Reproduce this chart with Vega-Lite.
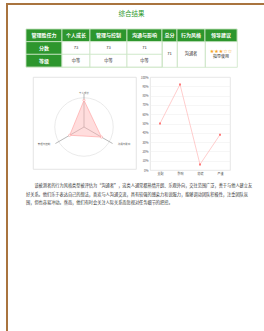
{
  "$schema": "https://vega.github.io/schema/vega-lite/v6.json",
  "background": "#ffffff",
  "padding": {"left": 6, "top": 3, "right": 0, "bottom": 0},
  "config": {"view": {"stroke": null}, "font": "Noto Sans CJK SC"},
  "datasets": {
    "table": [
      {"col": "管理胜任力", "row": "header", "kind": "head", "text": "管理胜任力"},
      {"col": "管理胜任力", "row": "分数", "kind": "head", "text": "分数"},
      {"col": "管理胜任力", "row": "等级", "kind": "head", "text": "等级"},
      {"col": "个人成长", "row": "header", "kind": "head", "text": "个人成长"},
      {"col": "个人成长", "row": "分数", "kind": "value", "text": "73"},
      {"col": "个人成长", "row": "等级", "kind": "value", "text": "中等"},
      {"col": "管理与控制", "row": "header", "kind": "head", "text": "管理与控制"},
      {"col": "管理与控制", "row": "分数", "kind": "value", "text": "73"},
      {"col": "管理与控制", "row": "等级", "kind": "value", "text": "中等"},
      {"col": "沟通与影响", "row": "header", "kind": "head", "text": "沟通与影响"},
      {"col": "沟通与影响", "row": "分数", "kind": "value", "text": "71"},
      {"col": "沟通与影响", "row": "等级", "kind": "value", "text": "中等"},
      {"col": "总分", "row": "header", "kind": "head", "text": "总分"},
      {"col": "总分", "row": "分数", "kind": "merged", "text": "71"},
      {"col": "行为风格", "row": "header", "kind": "head", "text": "行为风格"},
      {"col": "行为风格", "row": "分数", "kind": "merged", "text": "沟通者"},
      {"col": "领导建议", "row": "header", "kind": "head", "text": "领导建议"},
      {"col": "领导建议", "row": "分数", "kind": "merged", "text": "指导使用"},
      {"col": "领导建议", "row": "分数", "kind": "stars", "text": "★★★☆☆"}
    ],
    "radar": [
      {"axis": "个人成长", "value": 81},
      {"axis": "管理与控制", "value": 50},
      {"axis": "沟通与影响", "value": 61}
    ],
    "disc": [
      {"k": "支配", "v": 0.50},
      {"k": "影响", "v": 0.92},
      {"k": "稳健", "v": 0.06},
      {"k": "严谨", "v": 0.38}
    ],
    "para": [
      {"line": 1, "text": "该被测者的行为风格类型被评估为“沟通者”，这类人通常都热情开朗、乐观外向，交往范围广泛，善于与他人建立友"},
      {"line": 2, "text": "好关系。他们乐于表达自己的想法，喜欢与人沟通交流，具有较强的感染力和说服力，能够调动团队积极性，注重团队氛"},
      {"line": 3, "text": "围，但也容易冲动。然而，他们有时会关注人际关系而忽视对任务细节的把控。"}
    ]
  },
  "spacing": 0,
  "hconcat": [
    {
      "width": 2, "height": 328,
      "view": {"fill": "#a9743f", "stroke": null},
      "data": {"values": [{"edge": "left"}]},
      "mark": {"type": "rect", "color": "#a9743f"},
      "encoding": {}
    },
    {
      "spacing": 5,
      "vconcat": [
        {
          "width": 256, "height": 2,
          "view": {"fill": "#a9743f", "stroke": null},
          "data": {"values": [{"edge": "top"}]},
          "mark": {"type": "rect", "color": "#a9743f"},
          "encoding": {}
        },
        {
          "spacing": 16,
          "hconcat": [
            {"width": 1, "height": 1, "data": {"values": []}, "mark": "point", "encoding": {}},
            {
              "spacing": 7,
              "vconcat": [
                {
                  "title": {"text": "综合结果", "fontSize": 6.5, "color": "#2e9a2e", "fontWeight": "normal", "anchor": "middle", "offset": 11},
                  "data": {"name": "table"},
                  "spacing": 0,
                  "bounds": "flush",
                  "hconcat": [
                    {
                      "width": 36, "height": 38,
                      "view": {"stroke": "#cde6c6", "strokeWidth": 0.8},
                      "transform": [{"filter": {"field": "col", "equal": "管理胜任力"}}],
                      "encoding": {"y": {"field": "row", "type": "nominal", "scale": {"type": "band", "domain": ["header", "分数", "等级"], "paddingInner": 0, "paddingOuter": 0}, "axis": null}},
                      "layer": [
                        {"transform": [{"filter": "datum.kind == 'head' || datum.kind == 'value'"}], "mark": {"type": "rect", "stroke": "#cde6c6", "strokeWidth": 0.8}, "encoding": {"fill": {"field": "kind", "type": "nominal", "scale": {"domain": ["head", "value"], "range": ["#2d962d", "#ffffff"]}, "legend": null}}},
                        {"transform": [{"filter": "datum.kind == 'head'"}], "mark": {"type": "text", "fontSize": 5, "fontWeight": "bold", "fill": "#ffffff", "baseline": "middle"}, "encoding": {"text": {"field": "text"}}}
                      ]
                    },
                    {
                      "width": 28, "height": 38,
                      "view": {"stroke": "#cde6c6", "strokeWidth": 0.8},
                      "transform": [{"filter": {"field": "col", "equal": "个人成长"}}],
                      "encoding": {"y": {"field": "row", "type": "nominal", "scale": {"type": "band", "domain": ["header", "分数", "等级"], "paddingInner": 0, "paddingOuter": 0}, "axis": null}},
                      "layer": [
                        {"transform": [{"filter": "datum.kind == 'head' || datum.kind == 'value'"}], "mark": {"type": "rect", "stroke": "#cde6c6", "strokeWidth": 0.8}, "encoding": {"fill": {"field": "kind", "type": "nominal", "scale": {"domain": ["head", "value"], "range": ["#2d962d", "#ffffff"]}, "legend": null}}},
                        {"transform": [{"filter": "datum.kind == 'head'"}], "mark": {"type": "text", "fontSize": 5, "fontWeight": "bold", "fill": "#ffffff", "baseline": "middle"}, "encoding": {"text": {"field": "text"}}},
                        {"transform": [{"filter": "datum.kind == 'value'"}], "mark": {"type": "text", "fontSize": 4.2, "fill": "#333333", "baseline": "middle"}, "encoding": {"text": {"field": "text"}}}
                      ]
                    },
                    {
                      "width": 37, "height": 38,
                      "view": {"stroke": "#cde6c6", "strokeWidth": 0.8},
                      "transform": [{"filter": {"field": "col", "equal": "管理与控制"}}],
                      "encoding": {"y": {"field": "row", "type": "nominal", "scale": {"type": "band", "domain": ["header", "分数", "等级"], "paddingInner": 0, "paddingOuter": 0}, "axis": null}},
                      "layer": [
                        {"transform": [{"filter": "datum.kind == 'head' || datum.kind == 'value'"}], "mark": {"type": "rect", "stroke": "#cde6c6", "strokeWidth": 0.8}, "encoding": {"fill": {"field": "kind", "type": "nominal", "scale": {"domain": ["head", "value"], "range": ["#2d962d", "#ffffff"]}, "legend": null}}},
                        {"transform": [{"filter": "datum.kind == 'head'"}], "mark": {"type": "text", "fontSize": 5, "fontWeight": "bold", "fill": "#ffffff", "baseline": "middle"}, "encoding": {"text": {"field": "text"}}},
                        {"transform": [{"filter": "datum.kind == 'value'"}], "mark": {"type": "text", "fontSize": 4.2, "fill": "#333333", "baseline": "middle"}, "encoding": {"text": {"field": "text"}}}
                      ]
                    },
                    {
                      "width": 35, "height": 38,
                      "view": {"stroke": "#cde6c6", "strokeWidth": 0.8},
                      "transform": [{"filter": {"field": "col", "equal": "沟通与影响"}}],
                      "encoding": {"y": {"field": "row", "type": "nominal", "scale": {"type": "band", "domain": ["header", "分数", "等级"], "paddingInner": 0, "paddingOuter": 0}, "axis": null}},
                      "layer": [
                        {"transform": [{"filter": "datum.kind == 'head' || datum.kind == 'value'"}], "mark": {"type": "rect", "stroke": "#cde6c6", "strokeWidth": 0.8}, "encoding": {"fill": {"field": "kind", "type": "nominal", "scale": {"domain": ["head", "value"], "range": ["#2d962d", "#ffffff"]}, "legend": null}}},
                        {"transform": [{"filter": "datum.kind == 'head'"}], "mark": {"type": "text", "fontSize": 5, "fontWeight": "bold", "fill": "#ffffff", "baseline": "middle"}, "encoding": {"text": {"field": "text"}}},
                        {"transform": [{"filter": "datum.kind == 'value'"}], "mark": {"type": "text", "fontSize": 4.2, "fill": "#333333", "baseline": "middle"}, "encoding": {"text": {"field": "text"}}}
                      ]
                    },
                    {
                      "width": 15, "height": 38,
                      "view": {"stroke": "#cde6c6", "strokeWidth": 0.8},
                      "transform": [{"filter": {"field": "col", "equal": "总分"}}],
                      "encoding": {"y": {"field": "row", "type": "nominal", "scale": {"type": "band", "domain": ["header", "分数", "等级"], "paddingInner": 0, "paddingOuter": 0}, "axis": null}},
                      "layer": [
                        {"transform": [{"filter": "datum.kind == 'head' || datum.kind == 'value'"}], "mark": {"type": "rect", "stroke": "#cde6c6", "strokeWidth": 0.8}, "encoding": {"fill": {"field": "kind", "type": "nominal", "scale": {"domain": ["head", "value"], "range": ["#2d962d", "#ffffff"]}, "legend": null}}},
                        {"transform": [{"filter": "datum.kind == 'head'"}], "mark": {"type": "text", "fontSize": 5, "fontWeight": "bold", "fill": "#ffffff", "baseline": "middle"}, "encoding": {"text": {"field": "text"}}},
                        {"transform": [{"filter": "datum.kind == 'merged'"}], "mark": {"type": "text", "fontSize": 4.2, "fill": "#333333", "baseline": "middle"}, "encoding": {"y": {"field": "row", "type": "nominal", "bandPosition": 1, "scale": {"type": "band", "domain": ["header", "分数", "等级"], "paddingInner": 0, "paddingOuter": 0}, "axis": null}, "text": {"field": "text"}}}
                      ]
                    },
                    {
                      "width": 28, "height": 38,
                      "view": {"stroke": "#cde6c6", "strokeWidth": 0.8},
                      "transform": [{"filter": {"field": "col", "equal": "行为风格"}}],
                      "encoding": {"y": {"field": "row", "type": "nominal", "scale": {"type": "band", "domain": ["header", "分数", "等级"], "paddingInner": 0, "paddingOuter": 0}, "axis": null}},
                      "layer": [
                        {"transform": [{"filter": "datum.kind == 'head' || datum.kind == 'value'"}], "mark": {"type": "rect", "stroke": "#cde6c6", "strokeWidth": 0.8}, "encoding": {"fill": {"field": "kind", "type": "nominal", "scale": {"domain": ["head", "value"], "range": ["#2d962d", "#ffffff"]}, "legend": null}}},
                        {"transform": [{"filter": "datum.kind == 'head'"}], "mark": {"type": "text", "fontSize": 5, "fontWeight": "bold", "fill": "#ffffff", "baseline": "middle"}, "encoding": {"text": {"field": "text"}}},
                        {"transform": [{"filter": "datum.kind == 'merged'"}], "mark": {"type": "text", "fontSize": 4.2, "fill": "#333333", "baseline": "middle"}, "encoding": {"y": {"field": "row", "type": "nominal", "bandPosition": 1, "scale": {"type": "band", "domain": ["header", "分数", "等级"], "paddingInner": 0, "paddingOuter": 0}, "axis": null}, "text": {"field": "text"}}}
                      ]
                    },
                    {
                      "width": 32, "height": 38,
                      "view": {"stroke": "#cde6c6", "strokeWidth": 0.8},
                      "transform": [{"filter": {"field": "col", "equal": "领导建议"}}],
                      "encoding": {"y": {"field": "row", "type": "nominal", "scale": {"type": "band", "domain": ["header", "分数", "等级"], "paddingInner": 0, "paddingOuter": 0}, "axis": null}},
                      "layer": [
                        {"transform": [{"filter": "datum.kind == 'head' || datum.kind == 'value'"}], "mark": {"type": "rect", "stroke": "#cde6c6", "strokeWidth": 0.8}, "encoding": {"fill": {"field": "kind", "type": "nominal", "scale": {"domain": ["head", "value"], "range": ["#2d962d", "#ffffff"]}, "legend": null}}},
                        {"transform": [{"filter": "datum.kind == 'head'"}], "mark": {"type": "text", "fontSize": 5, "fontWeight": "bold", "fill": "#ffffff", "baseline": "middle"}, "encoding": {"text": {"field": "text"}}},
                        {"transform": [{"filter": "datum.kind == 'stars'"}], "mark": {"type": "text", "font": "DejaVu Sans", "fontSize": 5, "fill": "#f5a623", "baseline": "middle", "dy": -3}, "encoding": {"y": {"field": "row", "type": "nominal", "bandPosition": 1, "scale": {"type": "band", "domain": ["header", "分数", "等级"], "paddingInner": 0, "paddingOuter": 0}, "axis": null}, "text": {"field": "text"}}},
                        {"transform": [{"filter": "datum.kind == 'merged'"}], "mark": {"type": "text", "fontSize": 4, "fill": "#222222", "baseline": "middle", "dy": 2.5}, "encoding": {"y": {"field": "row", "type": "nominal", "bandPosition": 1, "scale": {"type": "band", "domain": ["header", "分数", "等级"], "paddingInner": 0, "paddingOuter": 0}, "axis": null}, "text": {"field": "text"}}}
                      ]
                    }
                  ]
                },
                {
                  "spacing": 5,
                  "hconcat": [
                    {"width": 1, "height": 1, "data": {"values": []}, "mark": "point", "encoding": {}},
                    {
                      "spacing": 14,
                      "bounds": "flush",
                      "hconcat": [
                        {
                          "width": 103, "height": 92,
                          "view": {"stroke": "#dedede", "strokeWidth": 0.8},
                          "layer": [
                            {
                              "data": {"values": [{"ring": "max"}]},
                              "mark": {"type": "point", "shape": "circle", "filled": false, "size": 3421, "stroke": "#dcdcdc", "strokeWidth": 0.6, "opacity": 1},
                              "encoding": {
                                "x": {"datum": 0, "type": "quantitative", "scale": {"domain": [-1.5455, 1.5758], "nice": false, "zero": false}, "axis": null},
                                "y": {"datum": 0, "type": "quantitative", "scale": {"domain": [-1.2727, 1.5152], "nice": false, "zero": false}, "axis": null}
                              }
                            },
                            {
                              "data": {"name": "radar"},
                              "transform": [
                                {"window": [{"op": "row_number", "as": "i"}]},
                                {"calculate": "(datum.i - 1) * 2 * PI / 3", "as": "a"},
                                {"calculate": "-sin(datum.a)", "as": "ax"},
                                {"calculate": "cos(datum.a)", "as": "ay"},
                                {"calculate": "datum.ax * datum.value / 100", "as": "px"},
                                {"calculate": "datum.ay * datum.value / 100", "as": "py"},
                                {"calculate": "datum.ax * 1.4", "as": "lx"},
                                {"calculate": "datum.ay * 1.04", "as": "ly"}
                              ],
                              "layer": [
                                {
                                  "mark": {"type": "rule", "stroke": "#8a8a8a", "strokeWidth": 0.6},
                                  "encoding": {
                                    "x": {"field": "ax", "type": "quantitative", "scale": {"domain": [-1.5455, 1.5758], "nice": false, "zero": false}, "axis": null},
                                    "y": {"field": "ay", "type": "quantitative", "scale": {"domain": [-1.2727, 1.5152], "nice": false, "zero": false}, "axis": null},
                                    "x2": {"datum": 0},
                                    "y2": {"datum": 0}
                                  }
                                },
                                {
                                  "mark": {"type": "line", "interpolate": "linear-closed", "fill": "#ffb3b3", "fillOpacity": 0.45, "stroke": "#ff9c9c", "strokeWidth": 0.6},
                                  "encoding": {
                                    "x": {"field": "px", "type": "quantitative", "scale": {"domain": [-1.5455, 1.5758], "nice": false, "zero": false}, "axis": null},
                                    "y": {"field": "py", "type": "quantitative", "scale": {"domain": [-1.2727, 1.5152], "nice": false, "zero": false}, "axis": null},
                                    "order": {"field": "i", "type": "quantitative"}
                                  }
                                },
                                {
                                  "mark": {"type": "point", "shape": "circle", "size": 5, "filled": true, "fill": "#ffffff", "stroke": "#ff8f8f", "strokeWidth": 0.5, "opacity": 1},
                                  "encoding": {
                                    "x": {"field": "px", "type": "quantitative", "scale": {"domain": [-1.5455, 1.5758], "nice": false, "zero": false}, "axis": null},
                                    "y": {"field": "py", "type": "quantitative", "scale": {"domain": [-1.2727, 1.5152], "nice": false, "zero": false}, "axis": null}
                                  }
                                },
                                {
                                  "mark": {"type": "text", "fontSize": 2.5, "fill": "#666666", "baseline": "middle"},
                                  "encoding": {
                                    "x": {"field": "lx", "type": "quantitative", "scale": {"domain": [-1.5455, 1.5758], "nice": false, "zero": false}, "axis": null},
                                    "y": {"field": "ly", "type": "quantitative", "scale": {"domain": [-1.2727, 1.5152], "nice": false, "zero": false}, "axis": null},
                                    "text": {"field": "axis"}
                                  }
                                }
                              ]
                            }
                          ]
                        },
                        {
                          "width": 80, "height": 93,
                          "view": {"stroke": "#e0e0e0", "strokeWidth": 0.8},
                          "data": {"name": "disc"},
                          "encoding": {
                            "x": {"field": "k", "type": "ordinal", "sort": null, "scale": {"type": "point", "padding": 0.5}, "axis": {"title": null, "labelAngle": 0, "labelFontSize": 3, "labelColor": "#555555", "ticks": false, "domain": false, "labelPadding": 2, "grid": false}},
                            "y": {"field": "v", "type": "quantitative", "scale": {"domain": [0, 1], "nice": false}, "axis": {"title": null, "values": [0, 0.1, 0.2, 0.3, 0.4, 0.5, 0.6, 0.7, 0.8, 0.9, 1], "format": ".0%", "labelFontSize": 3, "labelColor": "#555555", "ticks": false, "domain": false, "labelPadding": 2, "gridColor": "#ececec", "gridWidth": 0.5}}
                          },
                          "layer": [
                            {"mark": {"type": "line", "stroke": "#ffb8b8", "strokeWidth": 0.7}},
                            {"mark": {"type": "point", "shape": "square", "filled": true, "size": 4, "color": "#ff7b7b", "opacity": 1}}
                          ]
                        }
                      ]
                    }
                  ]
                },
                {
                  "width": 211, "height": 21,
                  "data": {"name": "para"},
                  "encoding": {
                    "y": {"field": "line", "type": "ordinal", "scale": {"type": "point", "padding": 0.167}, "axis": null},
                    "x": {"value": 0},
                    "text": {"field": "text"}
                  },
                  "layer": [
                    {"transform": [{"filter": "datum.line == 1"}], "mark": {"type": "text", "align": "left", "baseline": "middle", "fontSize": 4.2, "fill": "#333333", "dx": 8.4}},
                    {"transform": [{"filter": "datum.line != 1"}], "mark": {"type": "text", "align": "left", "baseline": "middle", "fontSize": 4.2, "fill": "#333333"}}
                  ]
                }
              ]
            }
          ]
        }
      ]
    }
  ]
}
